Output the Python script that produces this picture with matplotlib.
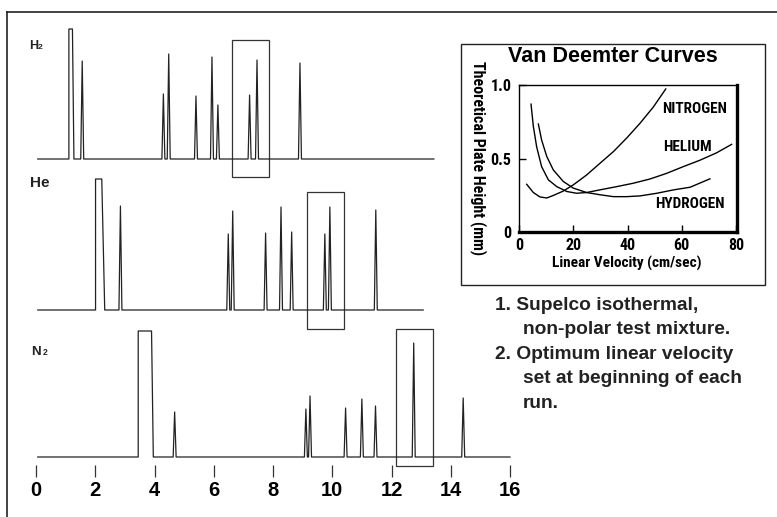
import matplotlib.pyplot as plt
from matplotlib.patches import Rectangle
from matplotlib.lines import Line2D

plt.rcParams['font.family'] = ['Liberation Sans', 'DejaVu Sans']
NARROW = ['Roboto Condensed', 'Liberation Sans', 'DejaVu Sans']

# chromatograms: retention time (min) and peak height (arbitrary units)
# solvent peak = (rise, end of flat top, back at baseline, height)
h2_solvent = (1.11, 1.23, 1.28, 130)
h2_times = [1.56, 4.30, 4.48, 5.40, 5.94, 6.14, 7.21, 7.46, 8.91]
h2_heights = [98, 65, 105, 63, 102, 54, 64, 99, 96]
h2_end = 13.43
h2_box = (6.62, 7.87)

he_solvent = (2.01, 2.22, 2.32, 131)
he_times = [2.85, 6.49, 6.64, 7.75, 8.27, 8.63, 9.75, 9.92, 11.47]
he_heights = [104, 76, 99, 77, 103, 78, 76, 103, 100]
he_end = 13.07
he_box = (9.16, 10.40)

n2_solvent = (3.45, 3.90, 3.96, 126)
n2_times = [4.68, 9.11, 9.25, 10.45, 11.00, 11.46, 12.75, 14.42]
n2_heights = [45, 48, 61, 49, 58, 51, 114, 59]
n2_end = 16.0
n2_box = (12.16, 13.41)

time_ticks = [0, 2, 4, 6, 8, 10, 12, 14, 16]

# Van Deemter curves: linear velocity (cm/sec) vs plate height (mm)
vd_n2_v = [2.8, 5.25, 7.7, 10.2, 12.6, 16.3, 20, 24.9, 29.8, 34.8, 39.7, 44.6, 49.5, 54.1]
vd_n2_h = [0.326, 0.27, 0.24, 0.233, 0.25, 0.28, 0.322, 0.389, 0.468, 0.548, 0.64, 0.74, 0.85, 0.973]
vd_he_v = [4.4, 5.25, 6.48, 8.3, 10.8, 13.9, 17.6, 21.2, 24.9, 29.8, 36, 42.1, 48.3, 54.4,
           60.6, 66.8, 72.9, 78.4]
vd_he_h = [0.87, 0.72, 0.58, 0.446, 0.356, 0.31, 0.277, 0.265, 0.27, 0.288, 0.31, 0.333, 0.362,
           0.4, 0.446, 0.49, 0.54, 0.597]
vd_h2_v = [7.1, 8.3, 10.2, 12.6, 16.3, 20, 24.9, 29.8, 34.8, 39.7, 44.6, 50.8, 57, 63.1, 70.4]
vd_h2_h = [0.735, 0.627, 0.515, 0.424, 0.345, 0.3, 0.27, 0.255, 0.242, 0.242, 0.247, 0.265,
           0.288, 0.306, 0.363]

notes = [("1. Supelco isothermal,", 495, 310), ("non-polar test mixture.", 523, 334),
         ("2. Optimum linear velocity", 495, 359), ("set at beginning of each", 523, 383),
         ("run.", 523, 408)]

W, H = 777, 517
fig = plt.figure(figsize=(W / 100, H / 100), dpi=100)


def px_axes(left, top, right, bottom):
    return fig.add_axes([left / W, 1 - bottom / H, (right - left) / W, (bottom - top) / H])


def trace(solvent, times, heights, end, hw=0.05):
    t0, t1, t2, hs = solvent
    xs = [0.06, t0, t0, t1, t2]
    ys = [0, 0, hs, hs, 0]
    for t, h in zip(times, heights):
        xs += [t - hw, t, t + hw]
        ys += [0, h, 0]
    xs.append(end)
    ys.append(0)
    return xs, ys


# label: (main, sub, x main, x sub, baseline y, size main, size sub, weight)
runs = [
    (("H", "2", -0.24, 0.07, 110, 9, 6, 'bold'),
     h2_solvent, h2_times, h2_heights, h2_end, h2_box, (-18, 119), 159),
    (("He", "", -0.2, 0, 122.7, 11, 0, 'bold'),
     he_solvent, he_times, he_heights, he_end, he_box, (-19, 118), 310),
    (("N", "2", -0.15, 0.22, 102, 9.5, 6.2, 'bold'),
     n2_solvent, n2_times, n2_heights, n2_end, n2_box, (-9, 128), 457),
]

for lab, solv, times, heights, end, box, (blo, bhi), base in runs:
    ax = px_axes(36, base - 140, 510, base)
    ax.set_xlim(0, 16)
    ax.set_ylim(0, 140)
    xs, ys = trace(solv, times, heights, end)
    ax.plot(xs, ys, color='#222222', lw=0.9, clip_on=False)
    ax.add_patch(Rectangle((box[0], blo), box[1] - box[0], bhi - blo, fill=False,
                           ec='#333333', lw=0.9, clip_on=False))
    main, sub, xm, xs_, yb, fm, fsub, wt = lab
    ax.text(xm, yb, main, fontsize=fm, fontweight=wt, va='baseline', ha='left',
            color='#222222')
    if sub:
        ax.text(xs_, yb, sub, fontsize=fsub, fontweight=wt, va='baseline', ha='left',
                color='#222222')
    if main == 'N':
        for s in ax.spines.values():
            s.set_visible(False)
        ax.spines['bottom'].set_position(('outward', 5.8))
        ax.set_yticks([])
        ax.set_xticks(time_ticks)
        ax.tick_params(axis='x', length=8.4, width=0.9, color='#333333', pad=3,
                       labelsize=14.5)
        for t in ax.get_xticklabels():
            t.set_fontweight('bold')
        ax.patch.set_visible(False)
    else:
        ax.axis('off')

# outer frame (top and left only)
fig.add_artist(Line2D([7 / W, 7 / W], [0, 1 - 12 / H], color='#222222', lw=1.2))
fig.add_artist(Line2D([7 / W, 1], [1 - 12 / H, 1 - 12 / H], color='#222222', lw=1.2))

# inset frame
fig.add_artist(Rectangle((460.7 / W, 1 - 285 / H), (765 - 460.7) / W, (285 - 44) / H,
                         transform=fig.transFigure, fill=False, ec='#222222', lw=1.0))

ins = px_axes(519.1, 85, 737.3, 232.3)
ins.set_xlim(0, 80.5)
ins.set_ylim(0, 1)
ins.plot(vd_n2_v, vd_n2_h, color='black', lw=1.0)
ins.plot(vd_he_v, vd_he_h, color='black', lw=1.0)
ins.plot(vd_h2_v, vd_h2_h, color='black', lw=1.0)
for side in ['left', 'top']:
    ins.spines[side].set_linewidth(1.0)
for side in ['right', 'bottom']:
    ins.spines[side].set_linewidth(2.4)
ins.set_xticks([0, 20, 40, 60, 80])
ins.set_yticks([0, 0.5, 1.0])
ins.set_yticklabels(['0', '0.5', '1.0'])
ins.tick_params(direction='in', length=5, width=1, pad=4)
ins.tick_params(axis='y', pad=5.5)
for t in ins.get_xticklabels() + ins.get_yticklabels():
    t.set_family(NARROW)
    t.set_fontweight('bold')
    t.set_fontsize(11.5)

gas_labels = [("NITROGEN", 52.6, 0.81), ("HELIUM", 53.0, 0.55), ("HYDROGEN", 50.1, 0.165)]
for txt, x, y in gas_labels:
    ins.text(x, y, txt, family=NARROW, fontweight='bold', fontsize=11)

fig.text(613.3 / W, 1 - 61.7 / H, "Van Deemter Curves", fontsize=15.5, fontweight='bold',
         ha='center', va='baseline')
fig.text(478 / W, 1 - 158.3 / H, "Theoretical Plate Height (mm)", family=NARROW,
         fontweight='bold', fontsize=11.5, rotation=-90, ha='center', va='center')
fig.text(626.7 / W, 1 - 263.3 / H, "Linear Velocity (cm/sec)", family=NARROW,
         fontweight='bold', fontsize=11, ha='center', va='center')

for txt, x, y in notes:
    fig.text(x / W, 1 - y / H, txt, fontsize=13.8, fontweight='bold', ha='left',
             va='baseline', color='#222222')

fig.savefig('out.png', dpi=100)
